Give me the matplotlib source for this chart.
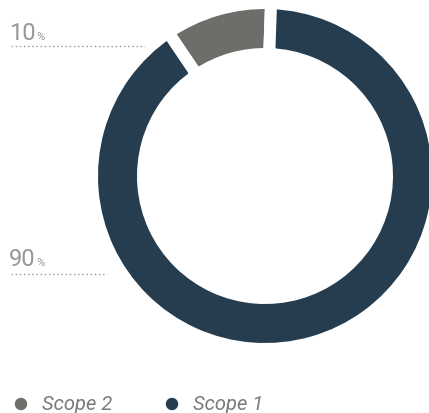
import matplotlib
matplotlib.use('Agg')
import matplotlib.pyplot as plt

# data
labels = ['Scope 2', 'Scope 1']
values = [10, 90]
colors = ['#6b6e69', '#263d4f']
pct_labels = ['10', '90']

W, H = 429, 414
fig = plt.figure(figsize=(W / 100, H / 100), dpi=100)
ax = fig.add_axes([0, 0, 1, 1])

# donut, drawn in pixel units (y flipped by hand)
cx, cy = 265, H - 177
gap = 12  # px of white between slices
r_out, r_in = 167, 128
ax.pie(values, colors=colors, startangle=88, counterclock=True,
       center=(cx, cy), radius=r_out + gap / 2,
       wedgeprops=dict(width=(r_out - r_in) + gap, edgecolor='white',
                       linewidth=gap * 0.72, joinstyle='miter'))

ax.set_xlim(0, W)
ax.set_ylim(0, H)
ax.set_aspect('auto')
ax.axis('off')

txt_col = '#979797'
fam = ['Roboto', 'DejaVu Sans']

# percentage callouts
label_y = [40, 266]
line_y = [47, 275]
line_x1 = [145, 107]
for lab, ty, ly, x1 in zip(pct_labels, label_y, line_y, line_x1):
    t = ax.text(9, H - ty, lab, fontsize=17, color=txt_col, family=fam,
                weight='normal', va='baseline', ha='left')
    ax.annotate('%', xy=(1, 0), xycoords=t, xytext=(0.8, 3.5),
                textcoords='offset points', fontsize=8, color=txt_col,
                family=fam, va='baseline', ha='left')
    ax.plot([11, x1], [H - ly, H - ly], color='#999999', lw=1,
            linestyle=(0, (1, 2)))

# legend
leg_x = [21, 172]
leg_y = H - 405
for lab, col, x in zip(labels, colors, leg_x):
    ax.scatter([x], [leg_y], s=80, color=col, edgecolors='none')
    ax.text(x + 21, leg_y, lab, fontsize=14.5, color='#7a7a7a', family=fam,
            weight='normal', style='italic', va='center', ha='left')

fig.savefig('out.png', dpi=100)
